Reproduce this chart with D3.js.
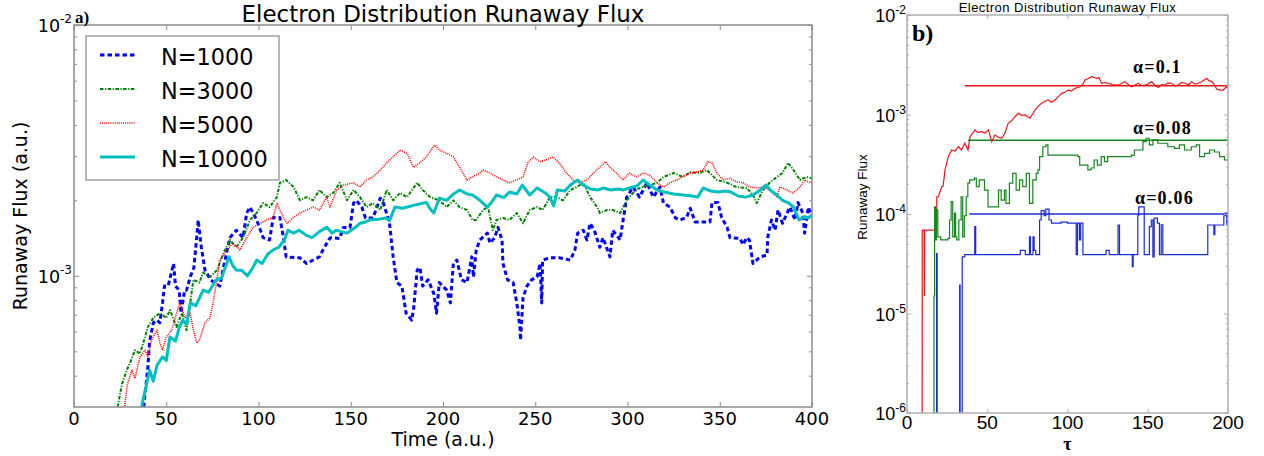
<!DOCTYPE html>
<html><head><meta charset="utf-8">
<script src="https://cdn.jsdelivr.net/npm/d3@7"></script>
<style>body{margin:0;background:#fff}svg{display:block}</style>
</head><body>
<svg id="c" width="1264" height="456"></svg>
<script>
// ---------------- DATA ----------------
// Panel a) : [time, flux]
const leftXTicks = [0,50,100,150,200,250,300,350,400];
const leftYMajor = [1e-2,1e-3];
const leftYMinor = [2e-3,3e-3,4e-3,5e-3,6e-3,7e-3,8e-3,9e-3,4e-4,5e-4,6e-4,7e-4,8e-4,9e-4];
const seriesNames = ["N=1000","N=3000","N=5000","N=10000"];

const n1000 = [[37.5,.28e-3],[38,.31e-3],[40,.43e-3],[41,.55e-3],[43,.65e-3],[45,.666e-3],[46.5,.65e-3],[48,.78e-3],[49,.91e-3],[51,.91e-3],[54,1.12e-3],[55,.91e-3],[57,.877e-3],[58,.71e-3],[60,.877e-3],[61,.877e-3],[63,.99e-3],[65,1.08e-3],[66.5,1.42e-3],[67.3,1.67e-3],[69,1.30e-3],[71,1.054e-3],[74,.964e-3],[79,.91e-3],[81,1.08e-3],[84.5,1.42e-3],[88,1.52e-3],[91.6,1.42e-3],[93.6,1.78e-3],[95.4,1.88e-3],[99,1.67e-3],[102.5,1.42e-3],[106,1.39e-3],[108,1.71e-3],[111.6,1.71e-3],[113.5,1.42e-3],[115,1.19e-3],[122.5,1.18e-3],[126,1.12e-3],[133,1.19e-3],[135,1.27e-3],[138,1.39e-3],[139,1.42e-3],[144,1.41e-3],[146,1.56e-3],[149.6,1.56e-3],[151.5,1.95e-3],[153,2.0e-3],[156,1.88e-3],[158,1.70e-3],[162,1.70e-3],[166,2.04e-3],[167.7,1.95e-3],[171,1.62e-3],[173,1.19e-3],[175,.94e-3],[177.7,.91e-3],[180,.71e-3],[183,.666e-3],[184,.73e-3],[186,1.054e-3],[187.5,1.08e-3],[189,.91e-3],[192,.964e-3],[195,.85e-3],[196.5,.71e-3],[198,.94e-3],[202,.877e-3],[204,.78e-3],[205.6,1.12e-3],[207.5,1.156e-3],[210,.964e-3],[213,.94e-3],[215.6,1.19e-3],[216.5,.99e-3],[218,1.27e-3],[220,1.39e-3],[224,1.48e-3],[225.5,1.35e-3],[228,1.42e-3],[229.8,1.56e-3],[232,1.39e-3],[232.5,1.12e-3],[235,.964e-3],[238,.94e-3],[240,.78e-3],[241.7,.625e-3],[242,.554e-3],[243.4,.82e-3],[245.5,.91e-3],[248,.964e-3],[251,.99e-3],[252.6,1.12e-3],[253.5,.78e-3],[254,1.156e-3],[258,1.18e-3],[263,1.18e-3],[269,1.156e-3],[271.5,1.27e-3],[273,1.48e-3],[276,1.52e-3],[278,1.39e-3],[279.7,1.62e-3],[282,1.52e-3],[285,1.30e-3],[286.7,1.42e-3],[290.5,1.19e-3],[292,1.52e-3],[296,1.39e-3],[297.6,1.67e-3],[299.6,2.06e-3],[303,2.26e-3],[306.5,2.06e-3],[310.5,2.35e-3],[314,2.06e-3],[317.6,2.26e-3],[319.5,1.95e-3],[323,1.88e-3],[326,1.70e-3],[328.5,1.67e-3],[332,1.71e-3],[334,1.86e-3],[336.6,1.64e-3],[344.7,1.64e-3],[345.8,1.96e-3],[349,1.96e-3],[351,1.71e-3],[354,1.56e-3],[355.5,1.42e-3],[361,1.41e-3],[362.6,1.33e-3],[364.6,1.42e-3],[366,1.39e-3],[367.5,1.19e-3],[368,1.12e-3],[371.8,1.19e-3],[375.6,1.21e-3],[376,1.42e-3],[378,1.67e-3],[380,1.52e-3],[381.6,1.83e-3],[384,1.62e-3],[388,1.88e-3],[390.8,1.67e-3],[392.4,1.96e-3],[395,1.78e-3],[396,1.48e-3],[398,1.88e-3],[400,1.71e-3]];

const n3000 = [[23,.28e-3],[24,.31e-3],[26,.37e-3],[28.6,.42e-3],[30.4,.45e-3],[33,.505e-3],[35.8,.49e-3],[38.5,.57e-3],[40,.625e-3],[43,.68e-3],[46.6,.71e-3],[50,.68e-3],[52,.73e-3],[55.6,.625e-3],[58.5,.71e-3],[61,.607e-3],[63,.78e-3],[64.7,.964e-3],[68,.94e-3],[70,1.03e-3],[73.7,.99e-3],[77.5,1.054e-3],[81,1.23e-3],[84.5,1.39e-3],[88,1.30e-3],[91.6,1.42e-3],[95.4,1.67e-3],[99,1.78e-3],[102.5,1.95e-3],[106,1.88e-3],[110,2.06e-3],[111.6,2.35e-3],[115,2.41e-3],[119,2.26e-3],[122.5,2.0e-3],[126,2.06e-3],[129.6,2.0e-3],[133,2.2e-3],[137,2.06e-3],[140.5,2.14e-3],[144,2.35e-3],[148,2.0e-3],[151.5,2.2e-3],[155,2.06e-3],[158.6,1.88e-3],[162,1.95e-3],[166,1.83e-3],[169.5,2.2e-3],[173,2.0e-3],[176.7,2.14e-3],[180.5,2.06e-3],[186,2.35e-3],[189,2.2e-3],[193,2.06e-3],[198,2.0e-3],[202,1.88e-3],[205.6,2.0e-3],[209,1.88e-3],[213,1.83e-3],[216,1.67e-3],[218,1.67e-3],[221.7,1.83e-3],[224.4,1.88e-3],[227,1.52e-3],[229,1.67e-3],[232.5,1.70e-3],[236,1.67e-3],[240,1.78e-3],[243.4,1.62e-3],[247,1.83e-3],[251,1.88e-3],[254,1.83e-3],[258,2.06e-3],[261.7,2.06e-3],[265,2.0e-3],[269,2.2e-3],[272.6,2.26e-3],[276,2.35e-3],[279.7,2.06e-3],[283.5,1.88e-3],[285,1.78e-3],[289,1.83e-3],[292,1.83e-3],[296,1.78e-3],[299.6,2.0e-3],[303,2.14e-3],[306.5,2.24e-3],[312,2.3e-3],[316,2.35e-3],[319.5,2.48e-3],[325,2.57e-3],[330,2.48e-3],[334,2.59e-3],[339,2.57e-3],[343,2.64e-3],[348.5,2.41e-3],[354,2.35e-3],[359,2.26e-3],[364.7,2.24e-3],[368,2.1e-3],[370,1.95e-3],[373.4,2.2e-3],[377,2.35e-3],[381,2.48e-3],[384,2.57e-3],[387,2.82e-3],[390,2.64e-3],[393.5,2.41e-3],[397,2.48e-3],[400,2.45e-3]];

const n5000 = [[27,.28e-3],[27.6,.31e-3],[29,.37e-3],[31.4,.42e-3],[33,.39e-3],[35.8,.475e-3],[38.5,.505e-3],[40,.475e-3],[42,.554e-3],[45,.607e-3],[46.6,.54e-3],[48,.505e-3],[50,.57e-3],[53,.607e-3],[55.6,.71e-3],[57.5,.78e-3],[60,.68e-3],[63,.71e-3],[64.7,.607e-3],[66.5,.54e-3],[68,.554e-3],[71,.65e-3],[73.7,.68e-3],[75.4,.78e-3],[77.5,.964e-3],[79,1.156e-3],[83,1.27e-3],[86,1.35e-3],[90,1.27e-3],[93.6,1.42e-3],[97,1.56e-3],[101,1.62e-3],[104.6,1.67e-3],[108,1.71e-3],[110,1.95e-3],[113.5,1.71e-3],[115.5,1.62e-3],[119,1.71e-3],[122.5,1.78e-3],[126,1.83e-3],[129.6,1.88e-3],[133,1.83e-3],[137,2.06e-3],[138.7,1.88e-3],[142.5,2.2e-3],[146,2.3e-3],[151.5,2.35e-3],[155,2.26e-3],[158.6,2.41e-3],[162,2.48e-3],[166,2.64e-3],[169.5,2.82e-3],[173,2.98e-3],[176.7,3.17e-3],[180.5,3.08e-3],[184,2.71e-3],[187.5,2.82e-3],[191,2.98e-3],[194.6,3.26e-3],[195.7,3.32e-3],[198,3.17e-3],[202,3.08e-3],[205.6,2.98e-3],[209,2.71e-3],[213,2.41e-3],[216,2.48e-3],[220,2.57e-3],[221.7,2.64e-3],[225.5,2.57e-3],[229,2.48e-3],[232.5,2.41e-3],[236,2.35e-3],[240,2.41e-3],[243.4,2.48e-3],[246,2.82e-3],[249,2.98e-3],[252.6,2.85e-3],[256,2.9e-3],[259.6,2.98e-3],[263,2.82e-3],[267,2.57e-3],[270.5,2.41e-3],[274,2.35e-3],[278,2.41e-3],[281.6,2.57e-3],[285,2.71e-3],[288,2.85e-3],[290.5,2.71e-3],[294,2.57e-3],[297.6,2.41e-3],[301,2.57e-3],[305,2.48e-3],[308.5,2.57e-3],[312,2.52e-3],[316,2.35e-3],[319.5,2.26e-3],[323,2.35e-3],[326.6,2.41e-3],[330,2.48e-3],[334,2.57e-3],[337.6,2.59e-3],[341,2.64e-3],[343.6,2.85e-3],[345.8,2.82e-3],[348.5,2.57e-3],[351.8,2.41e-3],[355.5,2.45e-3],[359,2.37e-3],[362.6,2.35e-3],[366.4,2.26e-3],[370,2.24e-3],[373.4,2.26e-3],[377,2.2e-3],[381,2.06e-3],[382.6,2.26e-3],[386.4,2.2e-3],[389.7,2.14e-3],[393.5,2.26e-3],[396,2.41e-3],[399,2.35e-3],[400,2.37e-3]];

const n10000 = [[36,.28e-3],[37,.31e-3],[39,.36e-3],[41,.42e-3],[43,.38e-3],[45,.44e-3],[48,.475e-3],[50,.46e-3],[52,.57e-3],[55,.55e-3],[57,.62e-3],[59,.666e-3],[61,.64e-3],[63,.78e-3],[66,.76e-3],[70,.877e-3],[73,.86e-3],[77,.964e-3],[80,.98e-3],[81,1.03e-3],[84,1.19e-3],[86,1.10e-3],[88,1.054e-3],[91,1.05e-3],[94,1.0e-3],[97,1.08e-3],[99,1.156e-3],[102,1.12e-3],[105,1.22e-3],[108,1.27e-3],[111,1.30e-3],[114,1.39e-3],[116,1.52e-3],[119,1.48e-3],[122,1.52e-3],[126,1.45e-3],[129,1.42e-3],[133,1.50e-3],[137,1.56e-3],[140,1.48e-3],[142,1.52e-3],[145,1.50e-3],[148,1.48e-3],[152,1.55e-3],[155,1.62e-3],[158,1.64e-3],[160,1.67e-3],[165,1.68e-3],[169,1.70e-3],[171,1.66e-3],[174,1.88e-3],[178,1.86e-3],[184,1.91e-3],[188,1.94e-3],[191,1.96e-3],[193,1.85e-3],[195,1.78e-3],[198,2.04e-3],[202,2.0e-3],[205,2.10e-3],[209,2.20e-3],[213,2.12e-3],[216,2.10e-3],[220,2.0e-3],[224,1.88e-3],[226,1.95e-3],[229,2.10e-3],[233,2.05e-3],[236,2.16e-3],[240,2.12e-3],[243,2.30e-3],[247,2.10e-3],[251,2.24e-3],[255,2.15e-3],[258,2.06e-3],[260,1.90e-3],[262,2.20e-3],[266,2.18e-3],[269,2.30e-3],[273,2.41e-3],[276,2.30e-3],[280,2.22e-3],[284,2.20e-3],[287,2.24e-3],[291,2.20e-3],[295,2.22e-3],[298,2.20e-3],[301,2.24e-3],[305,2.28e-3],[308.5,2.41e-3],[312,2.30e-3],[316,2.20e-3],[320,2.16e-3],[325,2.12e-3],[330,2.10e-3],[335,2.08e-3],[338,2.06e-3],[341,2.24e-3],[345,2.18e-3],[349,2.16e-3],[353,2.18e-3],[356,2.16e-3],[360,2.08e-3],[364,2.06e-3],[368,2.10e-3],[372,2.20e-3],[375,2.30e-3],[378,2.18e-3],[381,2.10e-3],[384,2.0e-3],[387,1.96e-3],[390,1.88e-3],[393,1.67e-3],[396,1.72e-3],[398,1.70e-3],[400,1.75e-3]];

// Panel b) : [tau, flux]
const rightXTicks = [0,50,100,150,200];
const rightYMajor = [1e-2,1e-3,1e-4,1e-5,1e-6];
const rightYMinor = [2e-3,3e-3,4e-3,5e-3,6e-3,7e-3,8e-3,9e-3,2e-4,3e-4,4e-4,5e-4,6e-4,7e-4,8e-4,9e-4,2e-5,3e-5,4e-5,5e-5,6e-5,7e-5,8e-5,9e-5,2e-6,3e-6,4e-6,5e-6,6e-6,7e-6,8e-6,9e-6];
const alphaNames = ["α=0.1","α=0.08","α=0.06"];
const alphaLevels = [1.95e-3, 5.5e-4, 1.0e-4];
const alphaLevelStart = [36, 38, 38.8];

const a010 = [[9.4,1e-7],[9.5,6.9e-5],[10.7,6.9e-5],[10.8,1.5e-5],[11.0,6.9e-5],[18.4,6.9e-5],[18.6,1.49e-4],[19.5,1.49e-4],[21.6,1.88e-4],[22.5,1.9e-4],[23.7,2.77e-4],[25.7,3.77e-4],[27.8,4.4e-4],[30,4.3e-4],[32,4.74e-4],[34,4.4e-4],[36,5.14e-4],[38,4.4e-4],[39.3,5.99e-4],[42.4,7.0e-4],[44,6.6e-4],[46.5,6.72e-4],[48.5,6.5e-4],[50.7,7.0e-4],[52.8,5.33e-4],[54.8,6.22e-4],[57,5.9e-4],[59,5.77e-4],[61,6.47e-4],[63,8.16e-4],[65,8.6e-4],[67.3,9.5e-4],[69.4,1.03e-3],[71.5,9.8e-4],[73.5,9.9e-4],[76.6,9.17e-4],[79.8,1.11e-3],[81.5,1.2e-3],[83.9,1.30e-3],[86,1.36e-3],[88,1.40e-3],[90,1.33e-3],[92.2,1.40e-3],[94.5,1.52e-3],[96.4,1.63e-3],[98.5,1.68e-3],[100.5,1.76e-3],[102.5,1.72e-3],[104.7,1.83e-3],[107.8,1.90e-3],[109.5,2.0e-3],[110.9,2.22e-3],[113,2.3e-3],[115,2.40e-3],[118.2,2.31e-3],[119.5,2.35e-3],[121.3,2.06e-3],[123,2.1e-3],[125.4,2.06e-3],[128,2.0e-3],[131.7,1.98e-3],[133.5,2.04e-3],[135.8,2.14e-3],[138,2.0e-3],[140,1.90e-3],[142,1.98e-3],[144.1,2.06e-3],[146,1.95e-3],[148.3,1.98e-3],[150,2.02e-3],[152.5,2.14e-3],[154.5,1.95e-3],[156.6,1.87e-3],[158.5,2.0e-3],[160.7,1.98e-3],[162.5,2.08e-3],[164.9,2.06e-3],[167,1.94e-3],[169,1.98e-3],[171,2.1e-3],[173.2,2.06e-3],[175.5,1.98e-3],[177.4,2.14e-3],[179.5,2.02e-3],[181.5,2.06e-3],[184,2.15e-3],[186.7,2.31e-3],[188,2.2e-3],[189.8,2.14e-3],[191.5,2.0e-3],[193,1.79e-3],[195,1.76e-3],[197,1.76e-3],[199,1.90e-3],[200,1.85e-3]];

const a008 = [[16.6,1e-7],[16.8,1.5e-5],[17.2,1.18e-4],[17.8,5.5e-5],[18.3,1.1e-4],[19.2,5.9e-5],[21.0,5.5e-5],[25.5,5.7e-5],[26.5,8.7e-5],[27.5,1.33e-4],[28.5,5.9e-5],[29.6,1.02e-4],[30.3,5.9e-5],[31.0,5.5e-5],[32.3,8.7e-5],[33.7,1.49e-4],[34.7,5.9e-5],[35.7,9.6e-5],[36.9,1.49e-4],[37.9,2.04e-4],[39.0,2.2e-4],[42.0,2.29e-4],[43.2,1.88e-4],[45.0,2.2e-4],[48.3,1.74e-4],[50.5,1.18e-4],[57.0,1.74e-4],[58.7,1.38e-4],[60.7,1.74e-4],[61.7,1.28e-4],[63.8,2.04e-4],[65.9,2.56e-4],[68.0,1.74e-4],[70.1,2.2e-4],[72.1,1.88e-4],[74.3,2.56e-4],[76.3,1.28e-4],[78.4,2.2e-4],[80.5,2.56e-4],[81.6,2.77e-4],[82.6,3.77e-4],[84.6,4.74e-4],[86.6,4.95e-4],[87.8,3.9e-4],[106.5,3.77e-4],[107.6,3.1e-4],[112.7,2.77e-4],[114.6,2.9e-4],[116.6,3.49e-4],[118.6,3.1e-4],[121.0,3.77e-4],[123.0,3.36e-4],[125.0,3.77e-4],[139.7,3.9e-4],[141.7,4.4e-4],[147.0,5.33e-4],[149.0,5.77e-4],[151.0,4.95e-4],[153.2,5.55e-4],[156.3,5.14e-4],[162.5,4.74e-4],[166.7,4.57e-4],[169.7,4.95e-4],[172.9,4.4e-4],[177.1,4.74e-4],[180.2,4.95e-4],[182.3,3.77e-4],[185.4,4.07e-4],[188.5,4.4e-4],[191.6,4.2e-4],[194.7,3.77e-4],[197.8,3.49e-4],[200,3.49e-4]];

const a006 = [[18.0,1e-7],[18.4,4.0e-5],[18.8,1e-7],[32.8,1.93e-5],[33.1,1e-7],[34.4,3.7e-5],[36.0,3.9e-5],[42.2,7.45e-5],[42.8,3.9e-5],[70.6,4.3e-5],[73.7,3.9e-5],[76.3,5.9e-5],[76.9,3.9e-5],[78.5,5.9e-5],[79.2,4.3e-5],[80.2,3.9e-5],[82.6,8.7e-5],[83.6,1.08e-4],[85.5,9.6e-5],[86.5,1.12e-4],[88.5,8.7e-5],[90.0,8.1e-5],[96.0,8.3e-5],[100.0,8.1e-5],[105.4,3.9e-5],[106.2,8.1e-5],[107.4,5.5e-5],[108.2,8.1e-5],[109.6,3.9e-5],[124.0,4.3e-5],[126.0,3.9e-5],[131.5,7.75e-5],[132.4,3.9e-5],[140.4,2.95e-5],[140.9,3.9e-5],[143.8,9.6e-5],[144.4,1.18e-4],[147.8,3.9e-5],[151.0,7.45e-5],[152.2,8.7e-5],[153.2,3.7e-5],[154.0,9.1e-5],[156.0,8.1e-5],[157.3,3.9e-5],[158.4,7.8e-5],[159.4,3.9e-5],[187.4,7.75e-5],[191.2,6.2e-5],[191.8,7.75e-5],[197.4,9.6e-5],[198.4,1.02e-4],[199.2,7.75e-5],[199.6,1.0e-4],[200,1.0e-4]];

// annotation anchors (data coords)
const alphaLabelTau = [140.8, 140.8, 142];
const alphaLabelFlux = [2.61e-3, 6.37e-4, 1.26e-4];

// ---------------- DRAWING ----------------
const svg = d3.select("#c");
const SANS = "DejaVu Sans", ARIAL = "Liberation Sans", SERIF = "Liberation Serif";

const LX = d3.scaleLinear().domain([0,400]).range([74,812]);
const LY = d3.scaleLog().domain([3e-4,1e-2]).range([407,25]);
const RX = d3.scaleLinear().domain([0,200]).range([907,1228]);
const RY = d3.scaleLog().domain([1e-6,1e-2]).range([413,15]);

const defs = svg.append("defs");
defs.append("clipPath").attr("id","clipL").append("rect")
  .attr("x",LX.range()[0]).attr("y",LY.range()[1]).attr("width",LX.range()[1]-LX.range()[0]).attr("height",LY.range()[0]-LY.range()[1]);
defs.append("clipPath").attr("id","clipR").append("rect")
  .attr("x",RX.range()[0]).attr("y",RY.range()[1]).attr("width",RX.range()[1]-RX.range()[0]).attr("height",RY.range()[0]-RY.range()[1]);

function tickSet(g, axisFn, scale, tr, values, size, color){
  g.append("g").attr("transform",tr)
   .call(axisFn(scale).tickValues(values).tickSize(-size).tickFormat(""))
   .call(a=>a.select(".domain").remove())
   .call(a=>a.selectAll("line").attr("stroke",color).attr("stroke-width",1));
}
function supLabel(g, x, y, v, fs, sfs, fam, rise){
  const t = g.append("text").attr("x",x).attr("y",y).attr("text-anchor","end")
    .attr("font-family",fam).attr("font-size",fs).attr("fill","#000");
  t.append("tspan").text("10");
  t.append("tspan").attr("dy",-rise).attr("font-size",sfs).text("-"+Math.round(-Math.log10(v)));
}

// ===== Panel a =====
const gA = svg.append("g");
const styleA = [
  {data:n1000, color:"#0000ff", w:3, dash:"4.5,3"},
  {data:n3000, color:"#008000", w:2, dash:"3.5,1.5,1.2,1.5"},
  {data:n5000, color:"#ff0000", w:1.6, dash:"1,1.1"},
  {data:n10000, color:"#00bfbf", w:3, dash:null}
];
const lineA = d3.line().x(d=>LX(d[0])).y(d=>LY(d[1]));
const plotA = gA.append("g").attr("clip-path","url(#clipL)");
styleA.forEach(s=>{
  plotA.append("path").datum(s.data).attr("d",lineA).attr("fill","none")
    .attr("stroke",s.color).attr("stroke-width",s.w).attr("stroke-dasharray",s.dash)
    .attr("stroke-linejoin","round");
});
// frame
const fA = "#8c8c8c";
gA.append("rect").attr("x",74).attr("y",25).attr("width",738).attr("height",382)
  .attr("fill","none").attr("stroke",fA).attr("stroke-width",1.5);
tickSet(gA, d3.axisBottom, LX, "translate(0,407)", leftXTicks, 5, fA);
tickSet(gA, d3.axisTop, LX, "translate(0,25)", leftXTicks, 5, fA);
tickSet(gA, d3.axisLeft, LY, "translate(74,0)", leftYMajor, 5, fA);
tickSet(gA, d3.axisRight, LY, "translate(812,0)", leftYMajor, 5, fA);
tickSet(gA, d3.axisLeft, LY, "translate(74,0)", leftYMinor, 3, fA);
tickSet(gA, d3.axisRight, LY, "translate(812,0)", leftYMinor, 3, fA);
leftXTicks.forEach(t=>{
  gA.append("text").attr("x",LX(t)).attr("y",425).attr("text-anchor","middle")
    .attr("font-family",SANS).attr("font-size",18).text(t);
});
leftYMajor.forEach(v=>supLabel(gA, 72, LY(v)+7, v, 17.5, 12, SANS, 9));
gA.append("text").attr("x",443).attr("y",446).attr("text-anchor","middle")
  .attr("font-family",SANS).attr("font-size",19).text("Time (a.u.)");
gA.append("text").attr("transform","translate(27,216) rotate(-90)").attr("text-anchor","middle")
  .attr("font-family",SANS).attr("font-size",19).text("Runaway Flux (a.u.)");
gA.append("text").attr("x",443).attr("y",22).attr("text-anchor","middle")
  .attr("font-family",SANS).attr("font-size",23).text("Electron Distribution Runaway Flux");
gA.append("text").attr("x",75).attr("y",23).attr("font-family",SERIF).attr("font-weight","bold")
  .attr("font-size",17).text("a)");
// legend
const lg = gA.append("g");
lg.append("rect").attr("x",86).attr("y",36).attr("width",193).attr("height",144)
  .attr("fill","#fff").attr("stroke","#888").attr("stroke-width",1.2);
styleA.forEach((s,i)=>{
  const y = 55 + i*34;
  lg.append("line").attr("x1",100).attr("x2",135).attr("y1",y).attr("y2",y)
    .attr("stroke",s.color).attr("stroke-width",s.w).attr("stroke-dasharray",s.dash);
  lg.append("text").attr("x",161).attr("y",y+9.5).attr("font-family",SANS).attr("font-size",22.4)
    .text(seriesNames[i]);
});

// ===== Panel b =====
const gB = svg.append("g");
const styleB = [
  {data:a010, color:"#e8161b", curve:d3.curveLinear},
  {data:a008, color:"#17861f", curve:d3.curveStepAfter},
  {data:a006, color:"#1d2bd6", curve:d3.curveStepAfter}
];
const plotB = gB.append("g").attr("clip-path","url(#clipR)");
styleB.forEach((s,i)=>{
  plotB.append("line").attr("x1",RX(alphaLevelStart[i])).attr("x2",RX(200))
    .attr("y1",RY(alphaLevels[i])).attr("y2",RY(alphaLevels[i]))
    .attr("stroke",s.color).attr("stroke-width",1.5);
});
styleB.forEach(s=>{
  const ln = d3.line().curve(s.curve).x(d=>RX(d[0])).y(d=>RY(d[1]));
  plotB.append("path").datum(s.data).attr("d",ln).attr("fill","none")
    .attr("stroke",s.color).attr("stroke-width",1.2);
});
const fB = "#b0b0b0";
gB.append("rect").attr("x",907).attr("y",15).attr("width",321).attr("height",398)
  .attr("fill","none").attr("stroke",fB).attr("stroke-width",1.5);
tickSet(gB, d3.axisBottom, RX, "translate(0,413)", rightXTicks, 4, fB);
tickSet(gB, d3.axisTop, RX, "translate(0,15)", rightXTicks, 4, fB);
tickSet(gB, d3.axisLeft, RY, "translate(907,0)", rightYMajor, 4, fB);
tickSet(gB, d3.axisRight, RY, "translate(1228,0)", rightYMajor, 4, fB);
tickSet(gB, d3.axisLeft, RY, "translate(907,0)", rightYMinor, 2, fB);
tickSet(gB, d3.axisRight, RY, "translate(1228,0)", rightYMinor, 2, fB);
rightXTicks.forEach(t=>{
  gB.append("text").attr("x",RX(t)).attr("y",429).attr("text-anchor","middle")
    .attr("font-family",ARIAL).attr("font-size",19).text(t);
});
rightYMajor.forEach(v=>supLabel(gB, 906, RY(v)+7, v, 18, 12, ARIAL, 8));
gB.append("text").attr("x",1067.5).attr("y",450).attr("text-anchor","middle")
  .attr("font-family",SERIF).attr("font-weight","bold").attr("font-size",18).text("τ");
gB.append("text").attr("transform","translate(867,197) rotate(-90)").attr("text-anchor","middle")
  .attr("font-family",ARIAL).attr("font-size",13.5).text("Runaway Flux");
gB.append("text").attr("x",1067.5).attr("y",12).attr("text-anchor","middle")
  .attr("font-family",ARIAL).attr("font-size",13).attr("letter-spacing",0.45)
  .text("Electron Distribution Runaway Flux");
gB.append("text").attr("x",912).attr("y",41).attr("font-family",SERIF).attr("font-weight","bold")
  .attr("font-size",24).text("b)");
alphaNames.forEach((n,i)=>{
  gB.append("text").attr("x",RX(alphaLabelTau[i])).attr("y",RY(alphaLabelFlux[i]))
    .attr("font-family",SERIF).attr("font-weight","bold").attr("font-size",18)
    .attr("letter-spacing",1.2).text(n);
});
</script>
</body></html>
